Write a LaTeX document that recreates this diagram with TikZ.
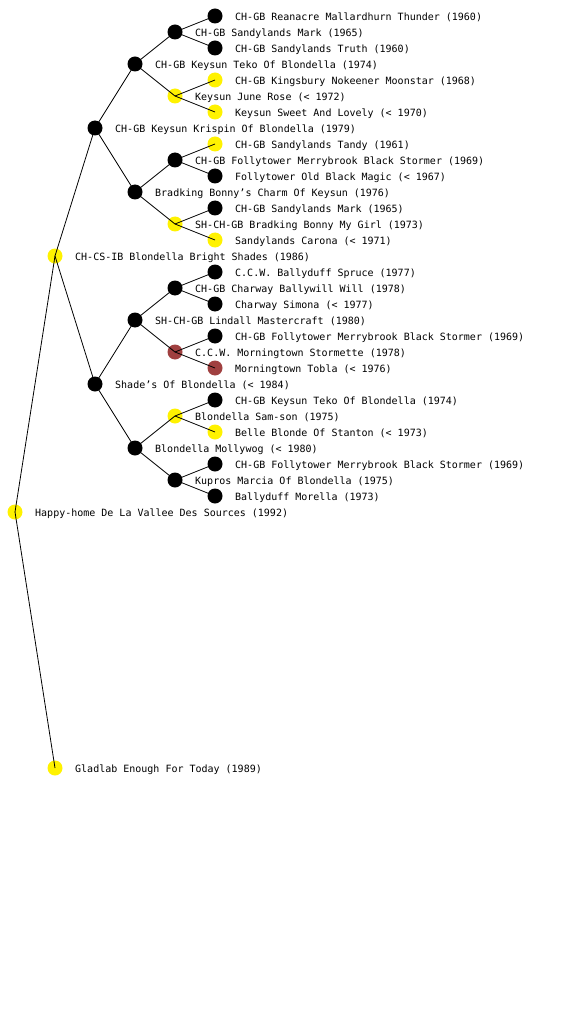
\documentclass[tikz,border=0pt]{standalone}
\usepackage{fontspec}
\setmonofont{DejaVu Sans Mono}
\definecolor{dogred}{RGB}{160,64,64}

\begin{document}
\begin{tikzpicture}[x=1pt, y=-1pt,
  dot/.style={circle, minimum size=15pt, inner sep=0pt, fill=#1},
  lbl/.style={font=\ttfamily\fontsize{10}{12}\selectfont, anchor=west, inner sep=0pt},
  edge/.style={black, line width=0.8pt}]

% --- Page (white, fixed size) ---
\fill[white] (0,0) rectangle (560,1024);
\useasboundingbox (0,0) rectangle (560,1024);

% --- Dogs: number / x / y / colour / name ---
\foreach \k/\x/\y/\c/\t in {
  1/15/512/yellow/{Happy-home De La Vallee Des Sources (1992)},
  2/55/256/yellow/{CH-CS-IB Blondella Bright Shades (1986)},
  3/55/768/yellow/{Gladlab Enough For Today (1989)},
  4/95/128/black/{CH-GB Keysun Krispin Of Blondella (1979)},
  5/95/384/black/{Shade’s Of Blondella (< 1984)},
  8/135/64/black/{CH-GB Keysun Teko Of Blondella (1974)},
  9/135/192/black/{Bradking Bonny’s Charm Of Keysun (1976)},
  10/135/320/black/{SH-CH-GB Lindall Mastercraft (1980)},
  11/135/448/black/{Blondella Mollywog (< 1980)},
  16/175/32/black/{CH-GB Sandylands Mark (1965)},
  17/175/96/yellow/{Keysun June Rose (< 1972)},
  18/175/160/black/{CH-GB Follytower Merrybrook Black Stormer (1969)},
  19/175/224/yellow/{SH-CH-GB Bradking Bonny My Girl (1973)},
  20/175/288/black/{CH-GB Charway Ballywill Will (1978)},
  21/175/352/dogred/{C.C.W. Morningtown Stormette (1978)},
  22/175/416/yellow/{Blondella Sam-son (1975)},
  23/175/480/black/{Kupros Marcia Of Blondella (1975)},
  32/215/16/black/{CH-GB Reanacre Mallardhurn Thunder (1960)},
  33/215/48/black/{CH-GB Sandylands Truth (1960)},
  34/215/80/yellow/{CH-GB Kingsbury Nokeener Moonstar (1968)},
  35/215/112/yellow/{Keysun Sweet And Lovely (< 1970)},
  36/215/144/yellow/{CH-GB Sandylands Tandy (1961)},
  37/215/176/black/{Follytower Old Black Magic (< 1967)},
  38/215/208/black/{CH-GB Sandylands Mark (1965)},
  39/215/240/yellow/{Sandylands Carona (< 1971)},
  40/215/272/black/{C.C.W. Ballyduff Spruce (1977)},
  41/215/304/black/{Charway Simona (< 1977)},
  42/215/336/black/{CH-GB Follytower Merrybrook Black Stormer (1969)},
  43/215/368/dogred/{Morningtown Tobla (< 1976)},
  44/215/400/black/{CH-GB Keysun Teko Of Blondella (1974)},
  45/215/432/yellow/{Belle Blonde Of Stanton (< 1973)},
  46/215/464/black/{CH-GB Follytower Merrybrook Black Stormer (1969)},
  47/215/496/black/{Ballyduff Morella (1973)}} {
  \node[dot=\c] (n\k) at (\x,\y) {};
  \node[lbl] (t\k) at (\x+20,\y+1.5) {\t};
}

% --- Lines: child / parent ---
\foreach \k/\p in {2/1, 3/1, 4/2, 5/2, 8/4, 9/4, 10/5, 11/5,
  16/8, 17/8, 18/9, 19/9, 20/10, 21/10, 22/11, 23/11,
  32/16, 33/16, 34/17, 35/17, 36/18, 37/18, 38/19, 39/19,
  40/20, 41/20, 42/21, 43/21, 44/22, 45/22, 46/23, 47/23} {
  \draw[edge] (n\p.center) -- (n\k.center);
}

\end{tikzpicture}
\end{document}
